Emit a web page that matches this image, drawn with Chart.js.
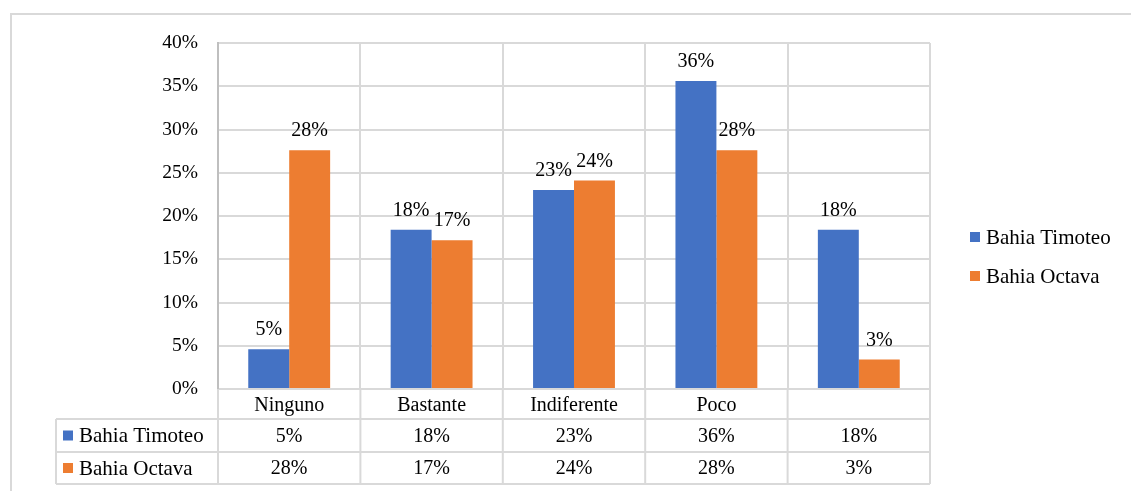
<!DOCTYPE html>
<html>
<head>
<meta charset="utf-8">
<script src="https://cdn.jsdelivr.net/npm/chart.js@4"></script>
<style>
  html, body { margin: 0; padding: 0; background: #fff; }
  #wrap { width: 1131px; height: 491px; }
</style>
</head>
<body>
<div id="wrap"><canvas id="chart" width="1131" height="491"></canvas></div>
<script>
// data
const categories = ["Ninguno", "Bastante", "Indiferente", "Poco", ""];
const timoteo = [0.046, 0.184, 0.230, 0.356, 0.184];
const octava = [0.276, 0.172, 0.241, 0.276, 0.034];
const seriesNames = ["Bahia Timoteo", "Bahia Octava"];
const colors = ["#4472C4", "#ED7D31"];

const FONT = "'Liberation Serif', 'Times New Roman', serif";
const LABEL_SIZE = 20;
const NAME_SIZE = 21;
const TICK_SIZE = 19.5;
const LINE = "#d9d9d9";

const pct = (v) => Math.round(v * 100) + "%";

// outer frame
const framePlugin = {
  id: "frame",
  beforeDraw(chart) {
    const c = chart.ctx;
    c.save();
    c.strokeStyle = LINE;
    c.lineWidth = 2;
    c.strokeRect(11, 14, 1140, 500);
    c.restore();
  },
};

// value labels above bars
const valueLabels = {
  id: "valueLabels",
  afterDatasetsDraw(chart) {
    const c = chart.ctx;
    c.save();
    c.font = LABEL_SIZE + "px " + FONT;
    c.fillStyle = "#000";
    c.textAlign = "center";
    c.textBaseline = "alphabetic";
    chart.data.datasets.forEach((ds, di) => {
      chart.getDatasetMeta(di).data.forEach((bar, i) => {
        c.fillText(pct(ds.data[i]), bar.x, bar.y - 14);
      });
    });
    c.restore();
  },
};

// legend on the right + data table below
const tableAndLegend = {
  id: "tableAndLegend",
  afterDraw(chart) {
    const c = chart.ctx;
    const x = chart.scales.x;
    const area = chart.chartArea;
    const n = categories.length;
    const cw = (area.right - area.left) / n;
    const rowTop = area.bottom;
    const r1 = 419, r2 = 452, r3 = 484;
    const tableLeft = 56;

    c.save();
    c.strokeStyle = LINE;
    c.lineWidth = 2;
    c.beginPath();
    // horizontal lines
    [r1, r2, r3].forEach((y) => {
      c.moveTo(tableLeft, y);
      c.lineTo(area.right, y);
    });
    // vertical lines
    c.moveTo(tableLeft, r1);
    c.lineTo(tableLeft, r3);
    for (let i = 0; i <= n; i++) {
      const xx = area.left + i * cw;
      c.moveTo(xx, rowTop);
      c.lineTo(xx, r3);
    }
    c.stroke();

    c.font = LABEL_SIZE + "px " + FONT;
    c.fillStyle = "#000";
    c.textBaseline = "middle";
    c.textAlign = "center";
    categories.forEach((cat, i) => {
      const cx = x.getPixelForValue(i);
      c.fillText(cat, cx, (rowTop + r1) / 2 + 2);
      c.fillText(pct(timoteo[i]), cx, (r1 + r2) / 2 + 1);
      c.fillText(pct(octava[i]), cx, (r2 + r3) / 2 + 1);
    });

    // row headers
    c.font = NAME_SIZE + "px " + FONT;
    c.textAlign = "left";
    const rows = [(r1 + r2) / 2, (r2 + r3) / 2];
    rows.forEach((cy, k) => {
      c.fillStyle = colors[k];
      c.fillRect(63, cy - 5, 10, 10);
      c.fillStyle = "#000";
      c.fillText(seriesNames[k], 79, cy + 1);
    });

    // legend
    const ly = [237, 276];
    ly.forEach((cy, k) => {
      c.fillStyle = colors[k];
      c.fillRect(970, cy - 5, 10, 10);
      c.fillStyle = "#000";
      c.fillText(seriesNames[k], 986, cy + 1);
    });
    c.restore();
  },
};

new Chart(document.getElementById("chart"), {
  type: "bar",
  data: {
    labels: categories,
    datasets: [
      {
        label: seriesNames[0],
        data: timoteo,
        backgroundColor: colors[0],
        barPercentage: 1,
        categoryPercentage: 0.575,
      },
      {
        label: seriesNames[1],
        data: octava,
        backgroundColor: colors[1],
        barPercentage: 1,
        categoryPercentage: 0.575,
      },
    ],
  },
  options: {
    responsive: false,
    animation: false,
    layout: {
      padding: { left: 0, top: 43, right: 201, bottom: 102 },
    },
    plugins: {
      legend: { display: false },
      tooltip: { enabled: false },
    },
    scales: {
      x: {
        grid: {
          color: LINE,
          lineWidth: 2,
          drawTicks: false,
          offset: true,
        },
        border: { color: LINE, width: 2 },
        ticks: { display: false },
        afterFit: (s) => { s.height = 0; },
      },
      y: {
        min: 0,
        max: 0.4,
        grid: {
          color: LINE,
          lineWidth: 2,
          drawTicks: false,
        },
        border: { color: "#bfbfbf", width: 2 },
        ticks: {
          stepSize: 0.05,
          padding: 20,
          color: "#000",
          font: { family: FONT, size: TICK_SIZE },
          callback: (v) => pct(v),
        },
        afterFit: (s) => { s.width = 218; },
      },
    },
  },
  plugins: [framePlugin, valueLabels, tableAndLegend],
});
</script>
</body>
</html>
